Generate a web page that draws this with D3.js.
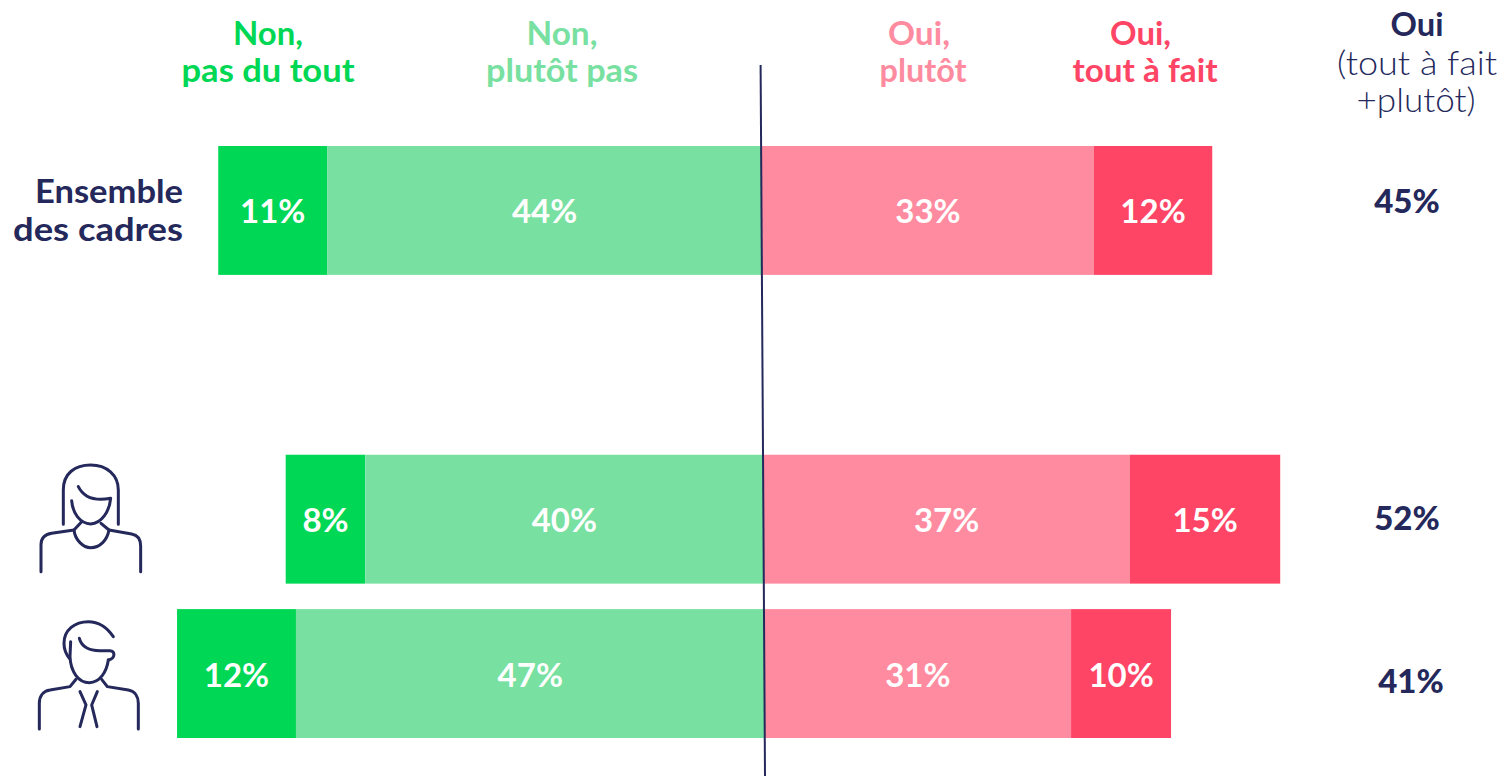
<!DOCTYPE html>
<html><head><meta charset="utf-8">
<script src="https://cdn.jsdelivr.net/npm/d3@7/dist/d3.min.js"></script>
<style>html,body{margin:0;padding:0;background:#fff}svg{display:block}text{font-family:Lato,sans-serif}</style>
</head><body><svg id="c" width="1503" height="776"></svg>
<script>
const categories = ["Ensemble des cadres", "", "Femmes", "Hommes"];
const rows = ["Ensemble des cadres", "Femmes", "Hommes"];
const nonPasDuTout = [10.95, 8, 11.95];
const nonPlutotPas = [43.7, 40, 47.1];
const ouiPlutot = [33.35, 36.85, 30.8];
const ouiToutAFait = [11.9, 15.1, 10.05];
const pctNonPasDuTout = [11, 8, 12];
const pctNonPlutotPas = [44, 40, 47];
const pctOuiPlutot = [33, 37, 31];
const pctOuiToutAFait = [12, 15, 10];
const totalOui = [45, 52, 41];

const navy = "#24285b";
const colors = ["#00d754", "#78e0a0", "#ff8ba0", "#ff4566"];
const svg = d3.select("#c");

const y = d3.scaleBand().domain(categories).range([146, 738]).paddingInner(25.5 / 154.5);
const x = d3.scaleLinear().domain([0, 100]).range([0, 995]);
const zeroLine = d3.scaleLinear().domain([65, 776]).range([760.6, 765]);
const rowZero = [762, 763.3, 764.6];

function fit(sel, w) { return sel.attr("textLength", w).attr("lengthAdjust", "spacingAndGlyphs"); }

const g = svg.append("g");
rows.forEach((r, i) => {
  const z = rowZero[i];
  const vals = [nonPasDuTout[i], nonPlutotPas[i], ouiPlutot[i], ouiToutAFait[i]];
  const pcts = [pctNonPasDuTout[i], pctNonPlutotPas[i], pctOuiPlutot[i], pctOuiToutAFait[i]];
  const starts = [-(vals[0] + vals[1]), -vals[1], 0, vals[2]];
  const seg = g.selectAll(null).data(vals).enter();
  seg.append("rect")
    .attr("x", (d, k) => z + x(starts[k]))
    .attr("y", y(r)).attr("width", d => x(d)).attr("height", y.bandwidth())
    .attr("fill", (d, k) => colors[k]);
  seg.append("text")
    .attr("x", (d, k) => z + x(starts[k]) + x(d) / 2)
    .attr("y", y(r) + y.bandwidth() / 2 + 13)
    .attr("text-anchor", "middle").attr("fill", "#fff")
    .attr("font-size", 33).attr("font-weight", 700)
    .text((d, k) => pcts[k] + "%");
});

svg.append("line").attr("x1", zeroLine(65)).attr("y1", 65).attr("x2", zeroLine(776)).attr("y2", 776)
  .attr("stroke", navy).attr("stroke-width", 2);

const headers = [
  {lines: ["Non,", "pas du tout"], w: [70, 173], x: [268, 268], c: colors[0]},
  {lines: ["Non,", "plutôt pas"], w: [71, 152], x: [562, 562], c: colors[1]},
  {lines: ["Oui,", "plutôt"], w: [62, 87], x: [919, 923], c: colors[2]},
  {lines: ["Oui,", "tout à fait"], w: [61, 145], x: [1140.5, 1145], c: colors[3]}
];
headers.forEach(h => {
  h.lines.forEach((t, i) => fit(svg.append("text").attr("x", h.x[i]).attr("y", 45 + i * 37)
    .attr("text-anchor", "middle").attr("fill", h.c).attr("font-size", 32).attr("font-weight", 700).text(t), h.w[i]));
});
fit(svg.append("text").attr("x", 1417).attr("y", 36).attr("text-anchor", "middle").attr("fill", navy)
  .attr("font-size", 32).attr("font-weight", 700).text("Oui"), 53);
fit(svg.append("text").attr("x", 1417).attr("y", 75).attr("text-anchor", "middle").attr("fill", navy)
  .attr("font-size", 33).attr("font-weight", 300).text("(tout à fait"), 160);
fit(svg.append("text").attr("x", 1416).attr("y", 112).attr("text-anchor", "middle").attr("fill", navy)
  .attr("font-size", 33).attr("font-weight", 300).text("+plutôt)"), 119);

[["Ensemble", 148], ["des cadres", 170]].forEach((t, i) => fit(svg.append("text").attr("x", 183).attr("y", 203 + i * 38)
  .attr("text-anchor", "end").attr("fill", navy).attr("font-size", 32).attr("font-weight", 700).text(t[0]), t[1]));

const totalX = [1407, 1407, 1411], totalY = [213, 530, 693];
totalOui.forEach((v, i) => svg.append("text").attr("x", totalX[i]).attr("y", totalY[i])
  .attr("text-anchor", "middle").attr("fill", navy).attr("font-size", 33).attr("font-weight", 900).text(v + "%"));

// Icons (traced in a 3x crop of the picture)
const icon = svg.append("g").attr("transform", "translate(0,440) scale(0.3333)")
  .attr("fill", "none").attr("stroke", navy).attr("stroke-width", 9).attr("stroke-linecap", "round").attr("stroke-linejoin", "round");
[
 "M190 253V150C190 100 225 75 272 75C320 75 355 105 355 150V253",
 "M235 140C250 170 280 185 332 175C328 215 305 250 272 252C240 250 218 220 215 182",
 "M245 245L222 270C225 300 250 323 272 323C300 323 322 300 327 270L303 250",
 "M222 270L155 280C135 283 123 295 123 315V395",
 "M327 270L395 282C412 285 422 298 422 318V395",
 "M340 590C320 560 295 545 265 545C225 545 192 570 192 610C192 630 200 645 208 655",
 "M212 605L210 650C212 695 235 728 268 728C300 728 320 695 325 660",
 "M238 595C245 620 265 632 300 632H330C345 632 348 655 325 660",
 "M228 718L210 740L150 750C128 753 118 770 118 790V867",
 "M305 718L322 740L385 750C405 753 415 770 415 790V867",
 "M240 755L258 795L240 860",
 "M292 755L275 795L291 860"
].forEach(d => icon.append("path").attr("d", d));
</script></body></html>
